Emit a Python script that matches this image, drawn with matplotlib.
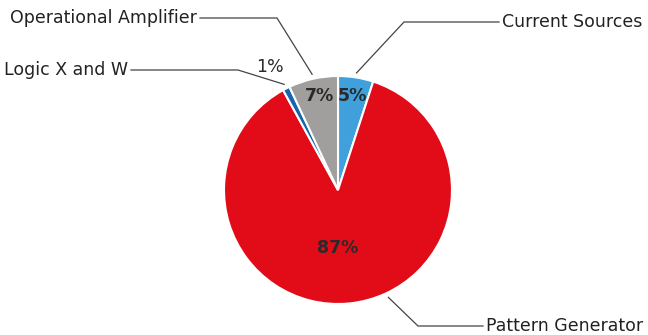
import numpy as np
import matplotlib
matplotlib.use("Agg")
import matplotlib.pyplot as plt

# share of test blocks by category, clockwise from 12 o'clock
categories = ["Current Sources", "Pattern Generator", "Logic X and W", "Operational Amplifier"]
shares = [5, 87, 1, 7]
pct_labels = ["5%", "87%", "1%", "7%"]
colors = ["#3fa0db", "#e20c18", "#1565b0", "#a09f9e"]

W, H = 648, 335
center = (338, H - 190)
radius = 114

plt.rcParams["font.family"] = ["Liberation Sans Narrow", "DejaVu Sans"]

fig = plt.figure(figsize=(W / 100, H / 100), dpi=100)
ax = fig.add_axes([0, 0, 1, 1])

wedges, _ = ax.pie(shares, colors=colors, startangle=90, counterclock=False,
                   center=center, radius=radius,
                   wedgeprops=dict(edgecolor="white", linewidth=1.5))

# pie() resets the limits, so put the pixel frame back afterwards
ax.set_xlim(0, W)
ax.set_ylim(0, H)
ax.set_aspect("equal")
ax.axis("off")

# where each leader line leaves the pie (fraction of the way through the slice),
# its elbow and where the label text sits
anchor_frac = [0.5, 0.437, 0.5, 0.5]
elbows = [(404, H - 22), (418, H - 326), (238, H - 70), (277, H - 18)]
text_pos = [(502, H - 22, "left"), (486, H - 326, "left"),
            (128, H - 70, "right"), (197, H - 18, "right")]

cum = np.concatenate([[0], np.cumsum(shares)])
for i, name in enumerate(categories):
    frac = (cum[i] + anchor_frac[i] * shares[i]) / sum(shares)
    ang = np.deg2rad(90 - 360 * frac)
    r0 = radius * 1.04
    x0 = center[0] + r0 * np.cos(ang)
    y0 = center[1] + r0 * np.sin(ang)
    ex, ey = elbows[i]
    tx, ty, ha = text_pos[i]
    hx = tx - 3 if ha == "left" else tx + 3
    ax.plot([x0, ex, hx], [y0, ey, ey], color="#444444", lw=0.9,
            solid_joinstyle="miter")
    ax.text(tx, ty, name, ha=ha, va="center", fontsize=12.5, color="#222222")

# percentage labels
pct_pos = [(352, H - 96), (338, H - 248), (270, H - 67), (320, H - 96)]
pct_weight = ["bold", "bold", "normal", "bold"]
for (px, py), lab, wt in zip(pct_pos, pct_labels, pct_weight):
    ax.text(px, py, lab, ha="center", va="center", fontsize=12.5,
            color="#2a2a2a", fontweight=wt)

fig.savefig("out.png", dpi=100)
